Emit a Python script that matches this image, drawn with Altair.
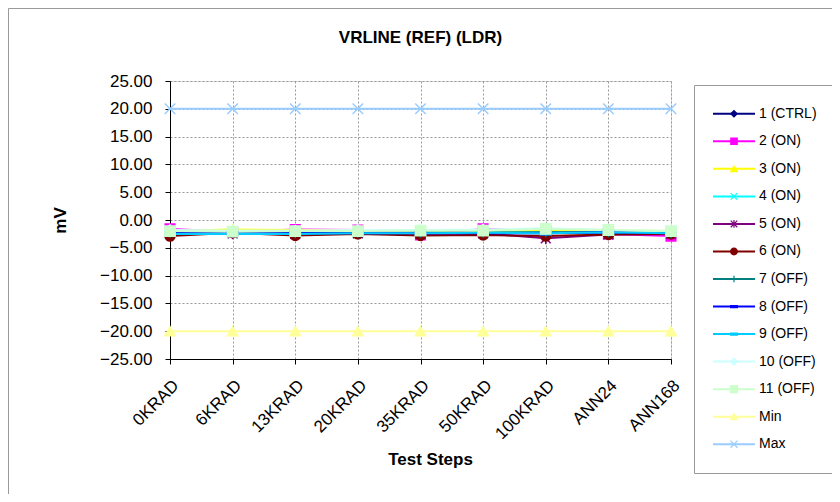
import altair as alt
import pandas as pd

steps = ["0KRAD", "6KRAD", "13KRAD", "20KRAD", "35KRAD", "50KRAD", "100KRAD", "ANN24", "ANN168"]
series_names = ["1 (CTRL)", "2 (ON)", "3 (ON)", "4 (ON)", "5 (ON)", "6 (ON)",
                "7 (OFF)", "8 (OFF)", "9 (OFF)", "10 (OFF)", "11 (OFF)", "Min", "Max"]

s1_ctrl = [-2.3, -2.3, -2.3, -2.3, -2.3, -2.3, -2.3, -2.2, -2.3]
s2_on = [-1.6, -2.1, -1.7, -1.8, -2.7, -1.6, -2.0, -2.5, -2.9]
s3_on = [-2.0, -1.7, -1.8, -1.9, -1.9, -1.9, -1.9, -1.9, -2.0]
s4_on = [-2.5, -2.4, -2.4, -2.4, -2.3, -2.3, -2.2, -2.3, -2.3]
s5_on = [-2.4, -2.4, -2.5, -2.4, -2.5, -2.4, -3.3, -2.6, -2.5]
s6_on = [-2.9, -2.3, -2.8, -2.5, -2.8, -2.7, -2.9, -2.6, -2.5]
s7_off = [-2.3, -2.3, -2.4, -2.3, -2.3, -2.3, -2.2, -2.2, -2.4]
s8_off = [-2.4, -2.4, -2.4, -2.4, -2.4, -2.4, -2.4, -2.2, -2.4]
s9_off = [-2.5, -2.5, -2.5, -2.4, -2.4, -2.3, -2.4, -2.2, -2.4]
s10_off = [-1.8, -1.9, -1.9, -1.8, -1.8, -1.7, -1.5, -1.8, -2.0]
s11_off = [-2.0, -2.1, -2.0, -2.0, -1.9, -1.9, -1.6, -1.8, -2.0]
min_vals = [-20.0] * 9
max_vals = [20.0] * 9

all_values = [s1_ctrl, s2_on, s3_on, s4_on, s5_on, s6_on, s7_off, s8_off,
              s9_off, s10_off, s11_off, min_vals, max_vals]

y_ticks = [-25, -20, -15, -10, -5, 0, 5, 10, 15, 20, 25]

colors = ["#000080", "#FF00FF", "#FFFF00", "#00FFFF", "#800080", "#800000",
          "#008080", "#0000FF", "#00CCFF", "#CCFFFF", "#CCFFCC", "#FFFF99", "#99CCFF"]

X_PATH = "M-1,-1L1,1M-1,1L1,-1"
STAR_PATH = "M-1,-1L1,1M-1,1L1,-1M0,-1.2L0,1.2"
PLUS_PATH = "M-1,0L1,0M0,-1L0,1"
DASH_PATH = "M-1,-0.3L1,-0.3L1,0.3L-1,0.3Z"
shapes = ["diamond", "square", "triangle-up", X_PATH, STAR_PATH, "circle",
          PLUS_PATH, DASH_PATH, DASH_PATH, "diamond", "square", "triangle-up", X_PATH]
sizes = [90, 110, 120, 90, 90, 100, 100, 60, 60, 110, 170, 170, 140]
legend_sizes = [40, 50, 60, 40, 40, 60, 50, 25, 25, 50, 60, 60, 50]

rows = []
for i, (name, vals) in enumerate(zip(series_names, all_values)):
    for j, (st, v) in enumerate(zip(steps, vals)):
        rows.append({"series": name, "step": st, "value": v, "order": i})
df = pd.DataFrame(rows)
legend_df = pd.DataFrame({"series": series_names})

FONT = "Liberation Sans"

color_scale = alt.Scale(domain=series_names, range=colors)
shape_scale = alt.Scale(domain=series_names, range=shapes)
size_scale = alt.Scale(domain=series_names, range=sizes)
lsize_scale = alt.Scale(domain=series_names, range=legend_sizes)

x_axis = alt.Axis(title="Test Steps", labelAngle=-45, labelFontSize=17,
                  labelFont=FONT, labelColor="black", titleFont=FONT,
                  titleFontSize=17, titleFontWeight="bold", titleColor="black",
                  titlePadding=10, titleX=260, domainColor="black",
                  tickColor="black", tickSize=5, labelPadding=13, grid=True,
                  gridColor="#999999", gridDash=[2, 2], labelAlign="right",
                  labelBaseline="top", labelOverlap=False)
y_axis = alt.Axis(title="mV", values=y_ticks, format=".2f",
                  labelFontSize=17, labelFont=FONT, labelColor="black",
                  titleFont=FONT, titleFontSize=17, titleFontWeight="bold",
                  titleColor="black", titlePadding=30, domainColor="black",
                  tickColor="black", tickSize=5, labelPadding=13, grid=True,
                  gridColor="#999999", gridDash=[2, 2], labelOverlap=False,
                  labelSeparation=0, labelBound=False)
x_enc = alt.X("step:N", sort=steps, scale=alt.Scale(padding=0), axis=x_axis)
y_enc = alt.Y("value:Q", scale=alt.Scale(domain=[-25, 25], nice=False), axis=y_axis)

base = alt.Chart(df)
lines = base.mark_line(strokeWidth=2).encode(
    x=x_enc, y=y_enc,
    color=alt.Color("series:N", scale=color_scale, legend=None),
    detail="series:N",
    order="order:Q",
)
points = base.mark_point(opacity=1, strokeWidth=1.5).encode(
    x=x_enc, y=y_enc,
    fill=alt.Fill("series:N", scale=color_scale, legend=None),
    stroke=alt.Stroke("series:N", scale=color_scale, legend=None),
    shape=alt.Shape("series:N", scale=shape_scale, legend=None),
    size=alt.Size("series:N", scale=size_scale, legend=None),
    order="order:Q",
)
data_layer = alt.layer(lines, points)

one = pd.DataFrame({"k": [0]})
outer_box = alt.Chart(one).mark_rect(fill=None, stroke="#999999", strokeWidth=1).encode(
    x=alt.value(-161.5), x2=alt.value(700), y=alt.value(-72.5), y2=alt.value(500))
legend_box = alt.Chart(one).mark_rect(fill="white", stroke="#999999", strokeWidth=1).encode(
    x=alt.value(524.5), x2=alt.value(667.5), y=alt.value(4.5), y2=alt.value(392.5))

ly = alt.Y("series:N", scale=alt.Scale(domain=series_names, range=[19, 377], padding=0),
           axis=None)
lg = alt.Chart(legend_df)
leg_lines = lg.mark_rule(strokeWidth=2).encode(
    x=alt.value(543), x2=alt.value(585), y=ly,
    color=alt.Color("series:N", scale=color_scale, legend=None))
leg_pts = lg.mark_point(opacity=1, strokeWidth=1.2).encode(
    x=alt.value(564), y=ly,
    fill=alt.Fill("series:N", scale=color_scale, legend=None),
    stroke=alt.Stroke("series:N", scale=color_scale, legend=None),
    shape=alt.Shape("series:N", scale=shape_scale, legend=None),
    size=alt.Size("series:N", scale=lsize_scale, legend=None))
leg_text = lg.mark_text(align="left", baseline="middle", fontSize=14, font=FONT,
                        color="black").encode(x=alt.value(589), y=ly, text="series:N")
legend_layer = alt.layer(outer_box, legend_box, leg_lines, leg_pts, leg_text)

chart = alt.layer(data_layer, legend_layer).resolve_scale(
    y="independent", size="independent"
).properties(
    width=501, height=278,
    title=alt.TitleParams("VRLINE (REF) (LDR)", font=FONT, fontSize=17,
                          fontWeight="bold", color="black", anchor="middle",
                          frame="group", offset=-39),
    padding={"left": 162, "top": 73, "right": 161, "bottom": 135},
    autosize=alt.AutoSizeParams(type="none"),
).configure_view(stroke="#808080", strokeWidth=1).configure_axis(
    labelOverlap=False
).configure(background="white")

chart.save("out.html", embed_options={"renderer": "svg", "actions": False})
